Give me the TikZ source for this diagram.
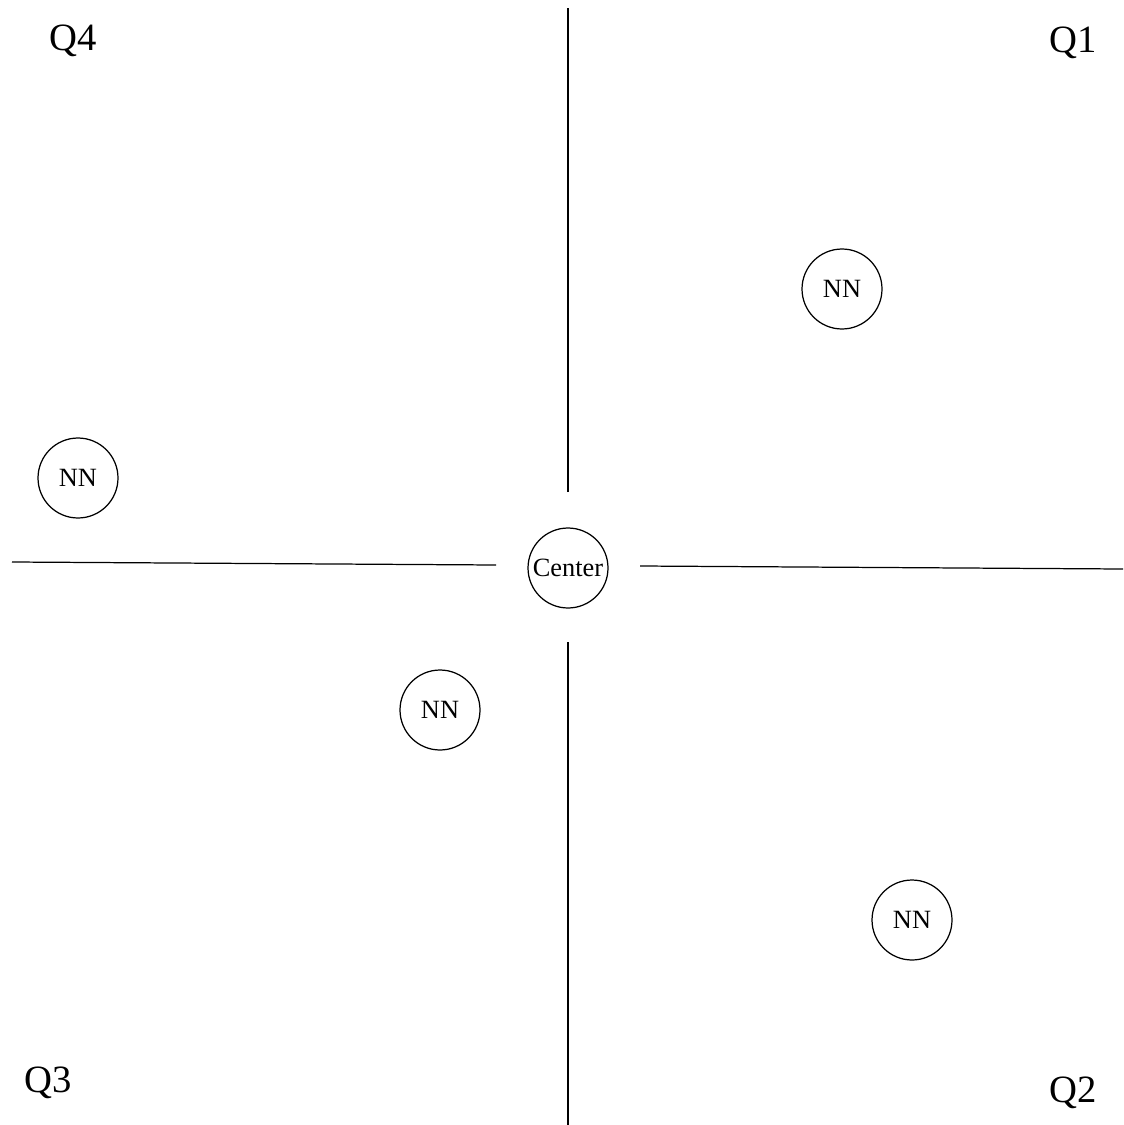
\documentclass[tikz,border=0pt]{standalone}
\usepackage{fontspec}
\setmainfont{Liberation Serif}
\usepackage{tikz}
\usetikzlibrary{positioning}
\tikzset{
  nncircle/.style={circle,draw,line width=0.7pt,minimum size=1.6cm,inner sep=0pt,font=\fontsize{15}{15}\selectfont},
  quadlabel/.style={font=\fontsize{22}{22}\selectfont},
  axisline/.style={draw,line width=0.7pt}
}
\begin{document}
\begin{tikzpicture}[x=0.02cm,y=-0.02cm]
\useasboundingbox (0,0) rectangle (1123,1125);
% center and neighbours
\node[nncircle] (center) at (568,568) {Center};
\foreach \name/\x/\y in {nnA/842/289,nnB/78/478,nnC/440/710,nnD/912/920} {
  \node[nncircle] (\name) at (\x,\y) {NN};
}
% axis ends
\coordinate (topend) at (568,8);
\coordinate (topstart) at (568,492);
\coordinate (botstart) at (568,642);
\coordinate (botend) at (568,1125);
\coordinate (leftend) at (12,562);
\coordinate (leftstart) at (496,565);
\coordinate (rightstart) at (640,566);
\coordinate (rightend) at (1123,569);
\draw[axisline] (topstart) -- (topend);
\draw[axisline] (botstart) -- (botend);
\draw[axisline] (leftstart) -- (leftend);
\draw[axisline] (rightstart) -- (rightend);
% quadrant labels
\node[quadlabel] (qfour) at (73,41) {Q4};
\node[quadlabel] (qone) at (1073,43) {Q1};
\node[quadlabel] (qthree) at (48,1083) {Q3};
\node[quadlabel] (qtwo) at (1073,1093) {Q2};
\end{tikzpicture}
\end{document}
